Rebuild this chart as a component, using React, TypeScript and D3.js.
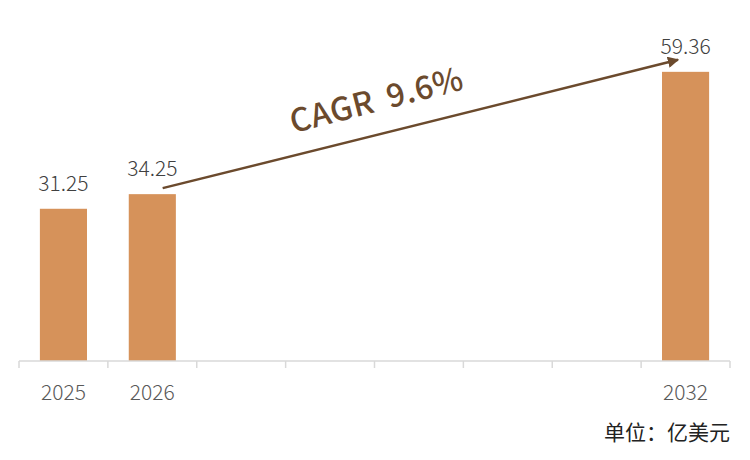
import React from "react";
import * as d3 from "d3";

const WIDTH = 750;
const HEIGHT = 460;

const years = ["2025", "2026", "2027", "2028", "2029", "2030", "2031", "2032"];
const values: (number | null)[] = [31.25, 34.25, null, null, null, null, null, 59.36];
const cagrWord = "CAGR";
const cagrRate = "9.6%";
const unitLabel = "单位：亿美元";

const FONT = "'Noto Sans CJK SC', 'Noto Sans', sans-serif";
const BAR = "#d6925a";
const BROWN = "#6b4a2d";

export default function App() {
  const x = d3.scaleBand<string>()
    .domain(years)
    .range([19, 730])
    .paddingInner(0.47)
    .paddingOuter(0.235);

  const y = d3.scaleLinear().domain([0, 70]).range([361, 20]);

  const step = x.step();
  const gap = (step - x.bandwidth()) / 2;
  const tickXs = years.map(d => x(d)! - gap).concat([x(years[years.length - 1])! + x.bandwidth() + gap]);

  // arrow from 2026 bar to 2032 bar
  const i0 = years.indexOf("2026");
  const i1 = years.indexOf("2032");
  const x0 = x(years[i0])! + x.bandwidth() * 0.72;
  const y0 = y(values[i0]!) - 6;
  const x1 = x(years[i1])! + x.bandwidth() * 0.34;
  const y1 = y(values[i1]!) - 12;
  const angle = Math.atan2(y1 - y0, x1 - x0) * 180 / Math.PI;
  const mx = (x0 + x1) / 2 - 41;
  const my = (y0 + y1) / 2 - 13;

  return (
    <svg
      width={WIDTH}
      height={HEIGHT}
      style={{ position: "absolute", left: 0, top: 0, background: "#fff" }}
      fontFamily={FONT}
    >
      <defs>
        <marker id="arrow" viewBox="0 0 10 10" refX="9" refY="5" markerWidth="4.5" markerHeight="4.5" orient="auto">
          <path d="M0,0 L10,5 L0,10 z" fill={BROWN} />
        </marker>
      </defs>

      {years.map((d, i) =>
        values[i] == null ? null : (
          <g key={d}>
            <rect x={x(d)} y={y(values[i]!)} width={x.bandwidth()} height={y(0) - y(values[i]!)} fill={BAR} />
            <text x={x(d)! + x.bandwidth() / 2} y={y(values[i]!) - 18} textAnchor="middle" fontSize={21} fontWeight={300} fill="#404040">
              {values[i]!.toFixed(2)}
            </text>
            <text x={x(d)! + x.bandwidth() / 2} y={400} textAnchor="middle" fontSize={21} fontWeight={300} fill="#595959">
              {d}
            </text>
          </g>
        )
      )}

      <line x1={tickXs[0]} x2={tickXs[tickXs.length - 1]} y1={y(0)} y2={y(0)} stroke="#d9d9d9" strokeWidth={1.5} />
      {tickXs.map((t, i) => (
        <line key={i} x1={t} x2={t} y1={y(0)} y2={y(0) + 7} stroke="#d9d9d9" strokeWidth={1.5} />
      ))}

      <line x1={x0} y1={y0} x2={x1} y2={y1} stroke={BROWN} strokeWidth={2.5} markerEnd="url(#arrow)" />
      <text
        transform={`translate(${mx},${my}) rotate(${angle - 0.5})`}
        textAnchor="middle"
        fontSize={32}
        fontWeight={500}
        letterSpacing={0.5}
        fill={BROWN}
      >
        <tspan>{cagrWord}</tspan>
        <tspan dx={14}>{cagrRate}</tspan>
      </text>

      <text x={730} y={440} textAnchor="end" fontSize={21} fill="#222">
        {unitLabel}
      </text>
    </svg>
  );
}
